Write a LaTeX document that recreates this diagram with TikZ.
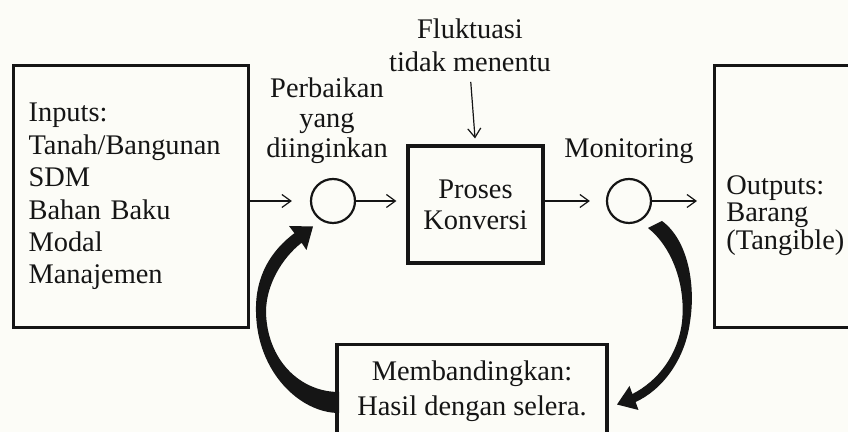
\documentclass[tikz,border=0pt]{standalone}
\usepackage{fontspec}
\setmainfont{Liberation Serif}
\usetikzlibrary{arrows.meta, positioning, calc}
\definecolor{Paper}{HTML}{FCFCF7}
\definecolor{Ink}{HTML}{151515}

\begin{document}
\begin{tikzpicture}[
    x=0.5pt,
    y=-0.5pt,
    >={Straight Barb[length=4.5pt, width=6.5pt]},
    every node/.style={text=Ink},
    txt/.style={font=\fontsize{14.2pt}{16.2pt}\selectfont},
    blockbox/.style={draw=Ink, line width=1.6pt, txt, inner sep=0pt},
    sumnode/.style={circle, draw=Ink, line width=1.1pt, minimum size=22pt, inner sep=0pt},
    flowline/.style={->, draw=Ink, line width=0.6pt},
    note/.style={txt, align=center, inner sep=0pt},
    feedback/.style={fill=Ink}
]

\fill[Paper] (0,0) rectangle (848,432);
\useasboundingbox (0,0) rectangle (848,432);

\node[blockbox, anchor=north west, minimum width=117.5pt, minimum height=131pt,
      text width=102.5pt, align=left] (inputs) at (12,64)
{Inputs:\\Tanah/Bangunan\\SDM\\Bahan Baku\\Modal\\Manajemen};

\node[sumnode] (sum1) at (333,201) {};

\node[blockbox, minimum width=67.5pt, minimum height=58.5pt, align=center,
      font=\fontsize{14.2pt}{15.5pt}\selectfont] (proses) at (475.5,204.5)
{Proses\\Konversi};

\node[sumnode] (sum2) at (629,201) {};

\node[blockbox, anchor=north west, minimum width=110pt, minimum height=131pt] (outbox) at (713,64) {};
\node[note, align=left, anchor=west, font=\fontsize{14.2pt}{13.6pt}\selectfont] (outtext)
    at ($(outbox.west)+(13,19)$) {Outputs:\\Barang\\(Tangible)};

\node[note, font=\fontsize{14.2pt}{16.5pt}\selectfont] (fluk) at (470,45) {Fluktuasi\\tidak menentu};
\node[note, font=\fontsize{14.2pt}{15pt}\selectfont] (perb) at (327,121) {Perbaikan\\yang\\diinginkan};
\node[note, above=7pt of sum2] (moni) {Monitoring};

\node[blockbox, anchor=north, minimum width=135pt, minimum height=47pt, align=center,
      font=\fontsize{14.2pt}{17.5pt}\selectfont] (compare) at (472,343)
{Membandingkan:\\Hasil dengan selera.};

% forward path
\draw[flowline, shorten >=9pt] (inputs.east |- sum1) -- (sum1.west);
\draw[flowline, shorten >=5pt] (sum1.east) -- (sum1 -| proses.west);
\draw[flowline, shorten >=8pt] (proses.east |- sum2) -- (sum2.west);
\draw[flowline, shorten >=8pt] (sum2.east) -- (sum2 -| outbox.west);
\draw[flowline, shorten <=5pt, shorten >=3pt] (fluk.south) -- (proses.north);

% feedback arrows
\fill[feedback] (339,413) .. controls (300,413) and (257,372) .. (256,312)
    .. controls (255,275) and (272,250) .. (294.4,233.2)
    -- (289,226) -- (313,226.5) -- (306.5,250) -- (301.6,242.8)
    .. controls (282,258) and (266,285) .. (266,312)
    .. controls (267,360) and (300,392) .. (339,392) -- cycle;
\fill[feedback] (662,221) .. controls (688,240) and (696,285) .. (690,322)
    .. controls (685,360) and (662,390) .. (635.6,402)
    -- (638.5,410) -- (617,404.5) -- (629.5,386) -- (632.4,394)
    .. controls (658,381) and (678,355) .. (682,322)
    .. controls (686,285) and (672,247) .. (648,228) -- cycle;

\end{tikzpicture}
\end{document}
